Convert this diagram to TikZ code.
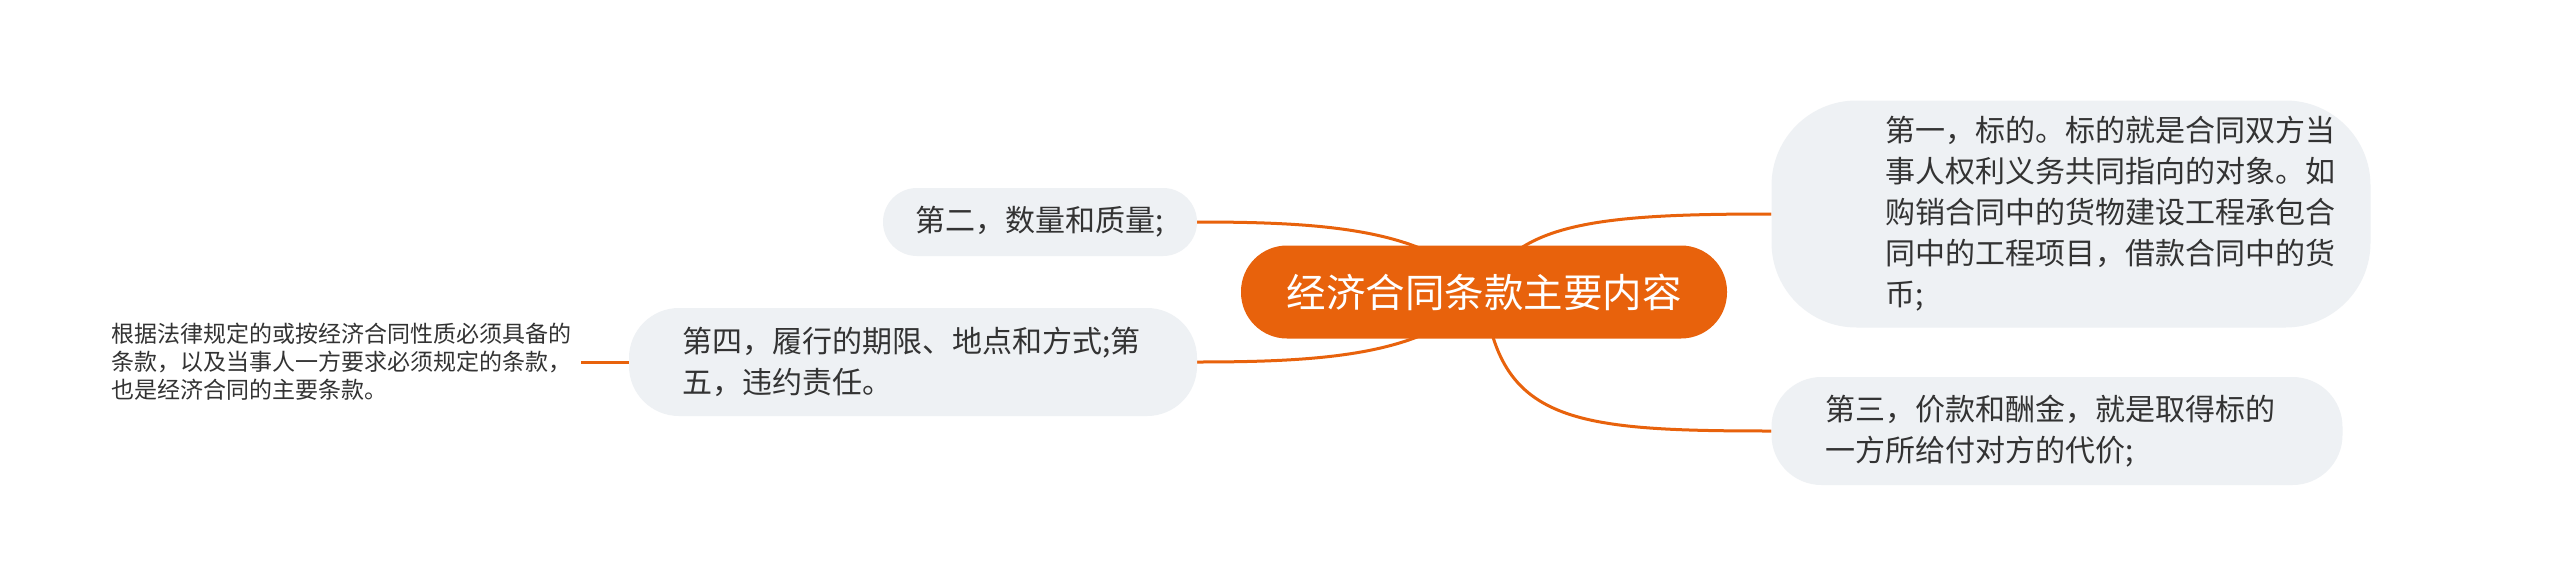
\documentclass[tikz,border=0pt]{standalone}
\usepackage{fontspec}
\newfontfamily\cjk{Noto Sans CJK SC}
\usetikzlibrary{backgrounds}
\definecolor{mainorange}{HTML}{E8620C}
\definecolor{boxgrey}{HTML}{EEF1F4}
\definecolor{textgrey}{HTML}{333333}

\begin{document}
\begin{tikzpicture}[x=1pt, y=-1pt,
    topic/.style={fill=mainorange, text=white, rounded corners=46pt, minimum width=486pt, minimum height=93pt, font=\cjk\fontsize{39.5}{48}\selectfont},
    sub/.style={fill=boxgrey, text=textgrey, align=left, font=\cjk\fontsize{30}{41}\selectfont},
    note/.style={text=textgrey, align=left, inner xsep=10pt, font=\cjk\fontsize{23}{28}\selectfont},
    edge/.style={draw=mainorange, line width=3pt}]
        \useasboundingbox (0,0) rectangle (2560,584);

        %nodes
        \node[topic] (root) at (1484, 292) {经济合同条款主要内容};
        \node[sub, rounded corners=85pt, text width=371pt, minimum width=599pt, minimum height=227pt] (a) at (2071, 214) {第一，标的。标的就是合同双方当\\事人权利义务共同指向的对象。如\\购销合同中的货物建设工程承包合\\同中的工程项目，借款合同中的货\\币;};
        \node[sub, rounded corners=34pt, minimum width=314pt, minimum height=68pt] (b) at (1040, 222) {第二，数量和质量;};
        \node[sub, rounded corners=50pt, text width=463pt, minimum width=571pt, minimum height=108pt] (c) at (2057, 431) {第三，价款和酬金，就是取得标的\\一方所给付对方的代价;};
        \node[sub, rounded corners=50pt, text width=462pt, minimum width=568pt, minimum height=108pt] (d) at (913, 362) {第四，履行的期限、地点和方式;第\\五，违约责任。};
        \node[note, anchor=west] (e) at (101, 362) {根据法律规定的或按经济合同性质必须具备的\\条款，以及当事人一方要求必须规定的条款，\\也是经济合同的主要条款。};

        %edges
        \begin{pgfonlayer}{background}
        \fill[white] (0,0) rectangle (2560,584);
        \draw[edge] (root.center) .. controls +(30,-70) and +(-170,0) .. (a.west);
        \draw[edge] (root.center) .. controls +(-54,-62) and +(133,0) .. (b.east);
        \draw[edge] (root.center) .. controls +(15,130) and +(-200,0) .. (c.west);
        \draw[edge] (root.center) .. controls +(-54,62) and +(133,0) .. (d.east);
        \draw[edge] (e.east) -- (d.west);
        \end{pgfonlayer}
    \end{tikzpicture}
\end{document}
